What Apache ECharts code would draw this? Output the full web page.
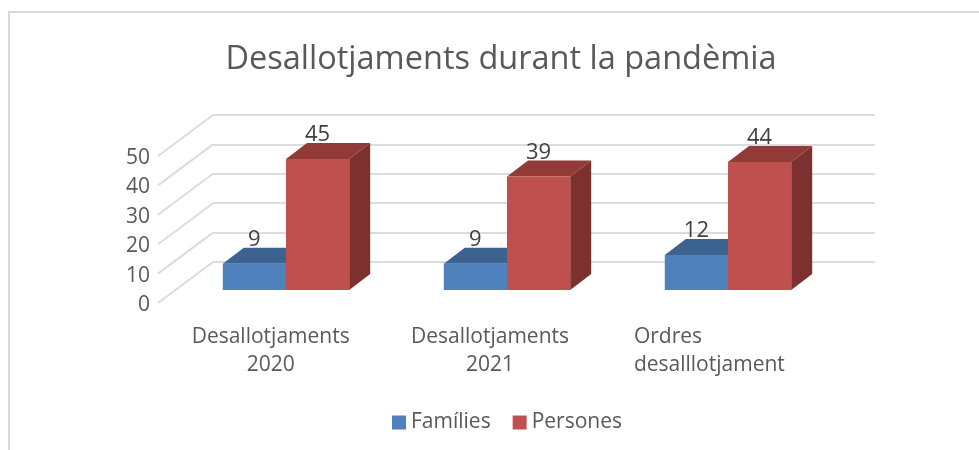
<!DOCTYPE html>
<html>
<head>
<meta charset="utf-8">
<title>Desallotjaments durant la pandèmia</title>
<style>
  html, body { margin: 0; padding: 0; background: #fff; }
  #chart { width: 979px; height: 450px; }
</style>
<script src="https://cdn.jsdelivr.net/npm/echarts@6/dist/echarts.min.js"></script>
</head>
<body>
<div id="chart"></div>
<script>
const titleText = 'Desallotjaments durant la pandèmia';
const categories = ['Desallotjaments\n2020', 'Desallotjaments\n2021', 'Ordres\ndesalllotjament'];
const families = [9, 9, 12];
const persones = [45, 39, 44];
const yTicks = [0, 10, 20, 30, 40, 50];

const FONT = '"Open Sans", sans-serif';
const DEPTH_X = 21;
const DEPTH_Y = 16;

// grid 0 = back wall, grid 1 = front edge (axis labels), grid 2 = bar fronts
function boxRenderer(side, colors) {
  return (params, api) => {
    const index = api.value(0);
    const value = api.value(1);
    const barWidth = api.size([1, 0])[0] * 0.286;
    const base = api.coord([index, 0]);
    const top = api.coord([index, value]);
    const x0 = side < 0 ? base[0] - barWidth : base[0];
    const x1 = x0 + barWidth;
    const y0 = base[1];
    const y1 = top[1];
    return {
      type: 'group',
      children: [
        {
          type: 'polygon',
          shape: { points: [[x1, y0], [x1 + DEPTH_X, y0 - DEPTH_Y], [x1 + DEPTH_X, y1 - DEPTH_Y], [x1, y1]] },
          style: { fill: colors.side },
        },
        {
          type: 'polygon',
          shape: { points: [[x0, y1], [x1, y1], [x1 + DEPTH_X, y1 - DEPTH_Y], [x0 + DEPTH_X, y1 - DEPTH_Y]] },
          style: { fill: colors.top },
        },
        {
          type: 'rect',
          shape: { x: x0, y: y1, width: barWidth, height: y0 - y1 },
          style: { fill: colors.front },
        },
        {
          type: 'text',
          style: {
            text: String(value),
            x: (x0 + x1) / 2,
            y: y1 - 24,
            align: 'center',
            verticalAlign: 'middle',
            fill: '#404040',
            fontSize: 22,
            fontFamily: FONT,
          },
        },
      ],
    };
  };
}

function slantRenderer(params, api) {
  const p = api.coord([0, api.value(1)]);
  return {
    type: 'line',
    shape: { x1: p[0], y1: p[1], x2: p[0] - 55, y2: p[1] + 41 },
    style: { stroke: '#dcdcdc', lineWidth: 2 },
  };
}

function categoryLabel(value) {
  const lines = value.split('\n');
  const firstStyle = lines[0].length < lines[1].length / 2 ? 'l' : 'c';
  return `{${firstStyle}|${lines[0]}}\n{c|${lines[1]}}`;
}

const labelRich = {
  c: { align: 'center', fontSize: 21, lineHeight: 28, fontFamily: FONT, color: '#595959' },
  l: { align: 'left', fontSize: 21, lineHeight: 28, fontFamily: FONT, color: '#595959' },
};

const chart = echarts.init(document.getElementById('chart'), null, { renderer: 'canvas' });
chart.setOption({
  animation: false,
  backgroundColor: '#ffffff',
  title: {
    text: titleText,
    left: 496,
    top: 38,
    textAlign: 'center',
    textStyle: { fontFamily: FONT, fontSize: 32.5, fontWeight: 'normal', color: '#595959' },
  },
  legend: {
    data: ['Famílies', 'Persones'],
    left: 387,
    top: 407,
    icon: 'rect',
    itemWidth: 14,
    itemHeight: 14,
    itemGap: 22,
    textStyle: { fontFamily: FONT, fontSize: 21, color: '#595959' },
  },
  graphic: [
    { type: 'line', shape: { x1: 8, y1: 12, x2: 979, y2: 12 }, style: { stroke: '#d9d9d9', lineWidth: 2 } },
    { type: 'line', shape: { x1: 9, y1: 12, x2: 9, y2: 450 }, style: { stroke: '#d9d9d9', lineWidth: 2 } },
  ],
  grid: [
    { left: 213, width: 662, top: 115, height: 147 },
    { left: 161, width: 658, top: 158, height: 147 },
    { left: 175.5, width: 663, top: 144.5, height: 145.5 },
  ],
  xAxis: [
    { gridIndex: 0, type: 'value', min: 0, max: 1, show: false },
    {
      gridIndex: 1,
      type: 'category',
      data: categories,
      axisLine: { show: false },
      axisTick: { show: false },
      axisLabel: { interval: 0, margin: 18, formatter: categoryLabel, rich: labelRich },
    },
    { gridIndex: 2, type: 'category', data: categories, show: false },
  ],
  yAxis: [
    {
      gridIndex: 0,
      type: 'value',
      min: 0,
      max: 50,
      interval: 10,
      axisLine: { show: false },
      axisTick: { show: false },
      axisLabel: { show: false },
      splitLine: { show: true, lineStyle: { color: '#dcdcdc', width: 2 } },
    },
    {
      gridIndex: 1,
      type: 'value',
      min: 0,
      max: 50,
      interval: 10,
      axisLine: { show: false },
      axisTick: { show: false },
      splitLine: { show: false },
      axisLabel: { margin: 11, fontFamily: FONT, fontSize: 21, color: '#595959' },
    },
    { gridIndex: 2, type: 'value', min: 0, max: 50, show: false },
  ],
  series: [
    {
      type: 'custom',
      name: 'wall',
      silent: true,
      xAxisIndex: 0,
      yAxisIndex: 0,
      renderItem: slantRenderer,
      data: yTicks.map((v) => [0, v]),
    },
    {
      type: 'custom',
      name: 'Famílies',
      xAxisIndex: 2,
      yAxisIndex: 2,
      itemStyle: { color: '#4f81bd' },
      renderItem: boxRenderer(-1, { front: '#4f81bd', top: '#3c638f', side: '#335478' }),
      data: families.map((v, i) => [i, v]),
    },
    {
      type: 'custom',
      name: 'Persones',
      xAxisIndex: 2,
      yAxisIndex: 2,
      itemStyle: { color: '#c0504d' },
      renderItem: boxRenderer(1, { front: '#c0504d', top: '#913a38', side: '#7d312f' }),
      data: persones.map((v, i) => [i, v]),
    },
  ],
});
</script>
</body>
</html>
